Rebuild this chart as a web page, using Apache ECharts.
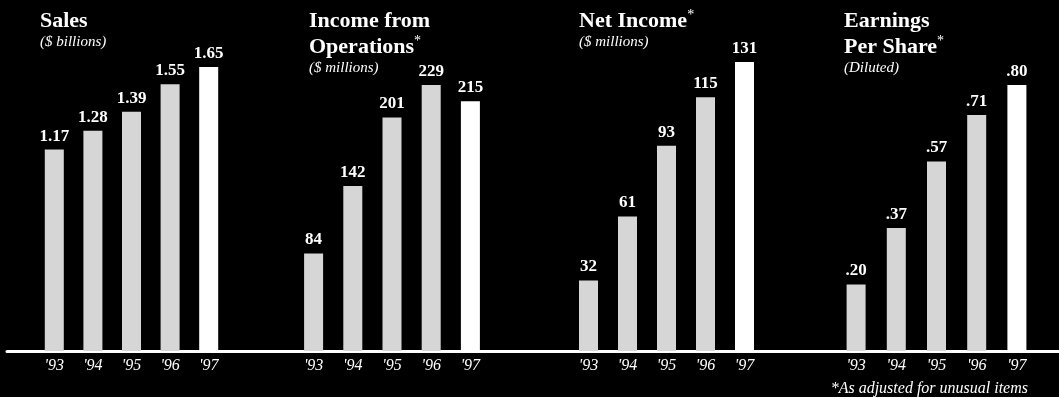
<!DOCTYPE html>
<html><head><meta charset="utf-8">
<style>html,body{margin:0;padding:0;background:#000;}#c{width:1059px;height:397px;}</style>
<script src="https://cdn.jsdelivr.net/npm/echarts@6/dist/echarts.min.js"></script>
</head><body><div id="c"></div>
<script>
const years = ["'93", "'94", "'95", "'96", "'97"];
const sales = [1.17, 1.28, 1.39, 1.55, 1.65];
const incomeOps = [84, 142, 201, 229, 215];
const netIncome = [32, 61, 93, 115, 131];
const eps = [0.20, 0.37, 0.57, 0.71, 0.80];

const salesFmt = v => v.toFixed(2);
const intFmt = v => String(v);
const epsFmt = v => v.toFixed(2).replace(/^0/, '');

const SERIF = '"Liberation Serif", "DejaVu Serif", serif';
const panels = [
  {data: sales, fmt: salesFmt, left: 35, width: 193, top: 67},
  {data: incomeOps, fmt: intFmt, left: 294, width: 196, top: 85},
  {data: netIncome, fmt: intFmt, left: 569, width: 195, top: 62},
  {data: eps, fmt: epsFmt, left: 836, width: 201, top: 85}
];
const BASE = 351;
const grids = [], xAxes = [], yAxes = [], series = [];
panels.forEach((p, i) => {
  grids.push({left: p.left, width: p.width, top: p.top, height: BASE - p.top});
  xAxes.push({type: 'category', gridIndex: i, data: years,
    axisLine: {show: false}, axisTick: {show: false},
    axisLabel: {color: '#fff', fontFamily: SERIF, fontStyle: 'italic', fontSize: 16, margin: 7}});
  yAxes.push({type: 'value', gridIndex: i, min: 0, max: 'dataMax', show: false, splitLine: {show: false}});
  series.push({type: 'bar', xAxisIndex: i, yAxisIndex: i, barWidth: 19,
    data: p.data.map((v, k) => ({value: v, itemStyle: {color: k === p.data.length - 1 ? '#ffffff' : '#d6d6d6'}})),
    label: {show: true, position: 'top', distance: 5, color: '#fff', fontFamily: SERIF, fontWeight: 'bold', fontSize: 17,
      formatter: o => p.fmt(o.value)}});
});
// full-width baseline
grids.push({left: 7, right: 0, top: 20, height: BASE - 20});
xAxes.push({type: 'category', gridIndex: 4, data: years, axisLine: {show: true, lineStyle: {color: '#fff', width: 3}},
  axisTick: {show: false}, axisLabel: {show: false}});
yAxes.push({type: 'value', gridIndex: 4, show: false, splitLine: {show: false}});

const rich = {
  t: {color: '#fff', fontFamily: SERIF, fontWeight: 'bold', fontSize: 22, lineHeight: 26},
  a: {color: '#fff', fontFamily: SERIF, fontWeight: 'normal', fontSize: 14, verticalAlign: 'top', lineHeight: 26},
  s: {color: '#fff', fontFamily: SERIF, fontWeight: 'normal', fontStyle: 'italic', fontSize: 15, lineHeight: 17},
  f: {color: '#fff', fontFamily: SERIF, fontWeight: 'normal', fontStyle: 'italic', fontSize: 16, lineHeight: 17}
};
const titles = [
  {left: 40, top: 8, text: '{t|Sales}\n{s|($ billions)}'},
  {left: 309, top: 8, text: '{t|Income from}\n{t|Operations}{a|*}\n{s|($ millions)}'},
  {left: 579, top: 8, text: '{t|Net Income}{a|*}\n{s|($ millions)}'},
  {left: 844, top: 8, text: '{t|Earnings}\n{t|Per Share}{a|*}\n{s|(Diluted)}'},
  {right: 31, top: 380, text: '{f|*As adjusted for unusual items}'}
].map(t => Object.assign({padding: 0, textStyle: {rich}}, t));

const chart = echarts.init(document.getElementById('c'));
chart.setOption({
  backgroundColor: '#000',
  animation: false,
  title: titles,
  grid: grids, xAxis: xAxes, yAxis: yAxes, series
});
</script></body></html>
